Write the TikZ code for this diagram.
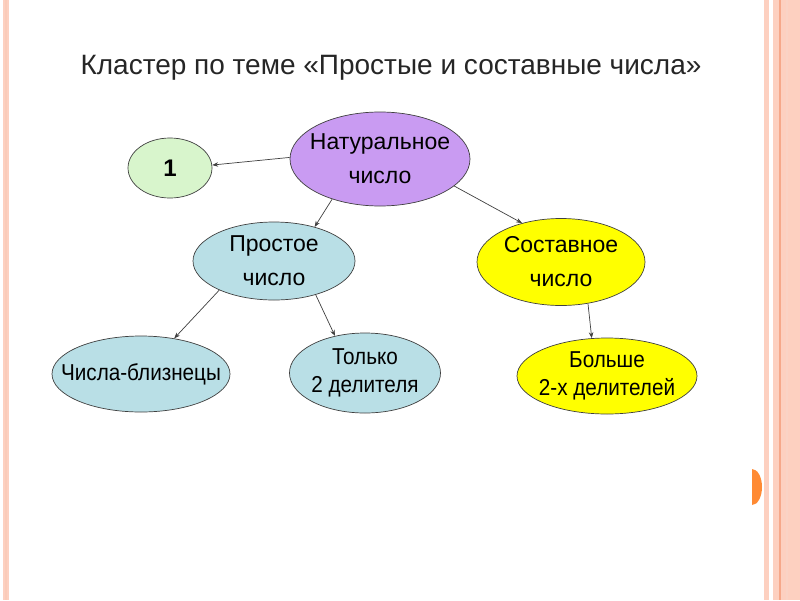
\documentclass[tikz,border=0pt]{standalone}
\usepackage{fontspec}
\setmainfont{Liberation Sans}
\newfontfamily\narrowfont[FakeStretch=0.9]{Liberation Sans}
\usetikzlibrary{shapes.geometric,arrows.meta}
\definecolor{bordpink}{HTML}{FDD0C0}
\definecolor{borddark}{HTML}{F6A88A}
\definecolor{dotorange}{HTML}{FF8A33}
\definecolor{cgreen}{HTML}{D8F5CC}
\definecolor{cpurple}{HTML}{C99BF2}
\definecolor{cblue}{HTML}{B9DFE6}
\definecolor{cyellow}{HTML}{FFFF00}
\tikzset{
  bubble/.style={ellipse, draw=black!75, line width=0.7pt, inner sep=-40pt, align=center, text=black},
  conn/.style={draw=black!75, line width=0.7pt, -{Stealth[length=6pt,width=4.5pt]}},
  bigtext/.style={font=\fontsize{23}{34}\selectfont},
  smalltext/.style={font=\narrowfont\fontsize{23}{28}\selectfont},
}
\begin{document}
\begin{tikzpicture}[x=1pt,y=-1pt]
\useasboundingbox (0,0) rectangle (800,600);
\fill[white] (0,0) rectangle (800,600);
% borders
\fill[bordpink] (3,0) rectangle (9,600);
\fill[borddark!60] (5,0) rectangle (7,600);
\fill[bordpink] (764,0) rectangle (769,600);
\fill[bordpink] (773,0) rectangle (800,600);
\fill[borddark] (778.5,0) rectangle (781,600);
\fill[borddark!50] (786,0) rectangle (787.5,600);
\fill[dotorange] (752,505) arc[start angle=90, end angle=-90, x radius=10, y radius=18] -- cycle;
% title
\node[font=\fontsize{28}{32}\selectfont, text=black!85] (title) at (391,68) {Кластер по теме «Простые и составные числа»};
% nodes
\node[bubble, font=\bfseries\fontsize{24}{30}\selectfont, fill=cgreen, minimum width=84pt, minimum height=60pt] (one) at (170,168) {1};
\node[bubble, bigtext, fill=cpurple, minimum width=180pt, minimum height=94pt] (nat) at (380,159) {Натуральное\\число};
\node[bubble, bigtext, fill=cblue, minimum width=162pt, minimum height=78pt] (prime) at (274,261) {Простое\\число};
\node[bubble, bigtext, fill=cyellow, minimum width=168pt, minimum height=87pt] (comp) at (561,262) {Составное\\число};
\node[bubble, smalltext, fill=cblue, minimum width=178pt, minimum height=76pt] (twins) at (141,374) {Числа-близнецы};
\node[bubble, smalltext, fill=cblue, minimum width=151pt, minimum height=80pt] (only) at (365,373) {Только\\2 делителя};
\node[bubble, smalltext, fill=cyellow, minimum width=180pt, minimum height=76pt] (more) at (607,376) {Больше\\2-х делителей};
% connectors
\draw[conn] (nat.179) -- (one.4);
\draw[conn] (nat.220) -- (prime.40);
\draw[conn] (nat.340) -- (comp.135);
\draw[conn] (prime.208) -- (twins.47);
\draw[conn] (prime.321) -- (only.129);
\draw[conn] (comp.303) -- (more.112);
\end{tikzpicture}
\end{document}
